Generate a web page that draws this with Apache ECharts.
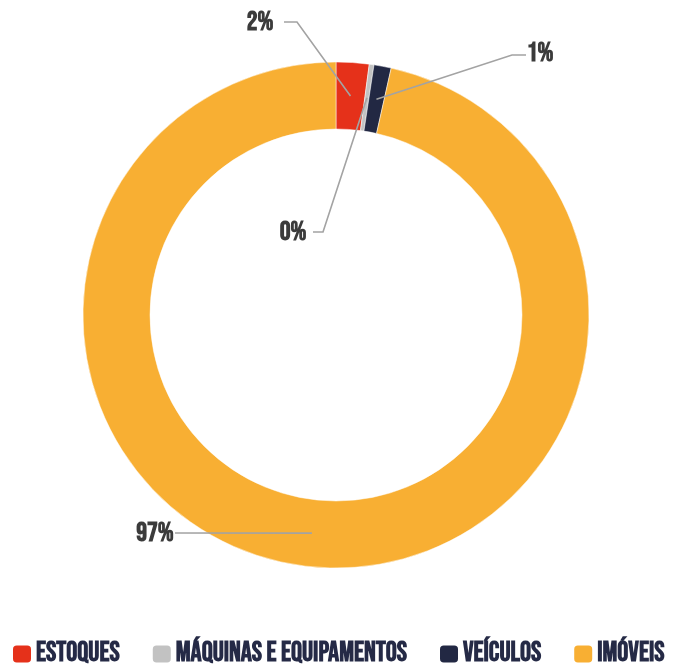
<!DOCTYPE html>
<html>
<head>
<meta charset="utf-8">
<script src="https://cdn.jsdelivr.net/npm/echarts@6/dist/echarts.min.js"></script>
<style>
html,body{margin:0;padding:0;background:#fff;}
#c{width:675px;height:664px;}
</style>
</head>
<body>
<div id="c"></div>
<script>
const categories = ['ESTOQUES', 'MÁQUINAS E EQUIPAMENTOS', 'VEÍCULOS', 'IMÓVEIS'];
const values = [2.1, 0.3, 1.1, 96.5];
const colors = ['#e5311a', '#c2c2c2', '#222843', '#f8af33'];

const FONT = '"Bebas Neue", "Oswald", "Roboto Condensed", sans-serif';
const CX = 336, CY = 315, R_IN = 186, R_OUT = 253;
// label anchor and elbow layout (pixel styling)
const labelLayouts = [
  {x: 260, y: 23, elbow: [[297, 22], [284, 22]]},
  {x: 293, y: 233, elbow: [[323, 232], [313, 232]]},
  {x: 540, y: 54, elbow: [[512, 55], [526, 55]]},
  {x: 155, y: 534, elbow: [[175, 533]]}
];

const total = values.reduce((a, b) => a + b, 0);
function midPoint(i) {
  let cum = 0;
  for (let k = 0; k < i; k++) cum += values[k];
  const a = (cum + values[i] / 2) / total * Math.PI * 2;
  const rm = (R_IN + R_OUT) / 2;
  return [CX + rm * Math.sin(a), CY - rm * Math.cos(a)];
}

const pieData = categories.map((c, i) => ({name: c, value: values[i]}));

const chart = echarts.init(document.getElementById('c'));
chart.setOption({
  animation: false,
  color: colors,
  legend: {
    top: 640,
    left: 11,
    padding: 0,
    itemWidth: 20,
    itemHeight: 19,
    itemGap: 31,
    icon: 'roundRect',
    textStyle: {fontFamily: FONT, fontWeight: 'bold', fontSize: 27.6, color: '#252a46', padding: [0, 0, 0, -1]},
    data: categories
  },
  series: [{
    type: 'pie',
    z: 2,
    center: [CX, CY],
    radius: [R_IN, R_OUT],
    startAngle: 90,
    clockwise: true,
    label: {show: false},
    labelLine: {show: false},
    itemStyle: {borderColor: '#ffffff', borderWidth: 0.5},
    data: pieData
  }, {
    type: 'pie',
    z: 5,
    silent: true,
    center: [CX, CY],
    radius: [R_IN, R_OUT],
    startAngle: 90,
    clockwise: true,
    percentPrecision: 0,
    avoidLabelOverlap: false,
    itemStyle: {color: 'rgba(0,0,0,0)', borderWidth: 0},
    label: {
      show: true,
      position: 'outside',
      formatter: '{d}%',
      fontFamily: FONT,
      fontWeight: 'bold',
      fontSize: 27,
      color: '#3b3b3b'
    },
    labelLine: {show: true, lineStyle: {color: '#a3a3a3', width: 1.6}},
    labelLayout: function (params) {
      const i = params.dataIndex;
      const L = labelLayouts[i];
      return {
        x: L.x, y: L.y, align: 'center', verticalAlign: 'middle',
        labelLinePoints: [midPoint(i)].concat(L.elbow)
      };
    },
    data: pieData
  }]
});
</script>
</body>
</html>
